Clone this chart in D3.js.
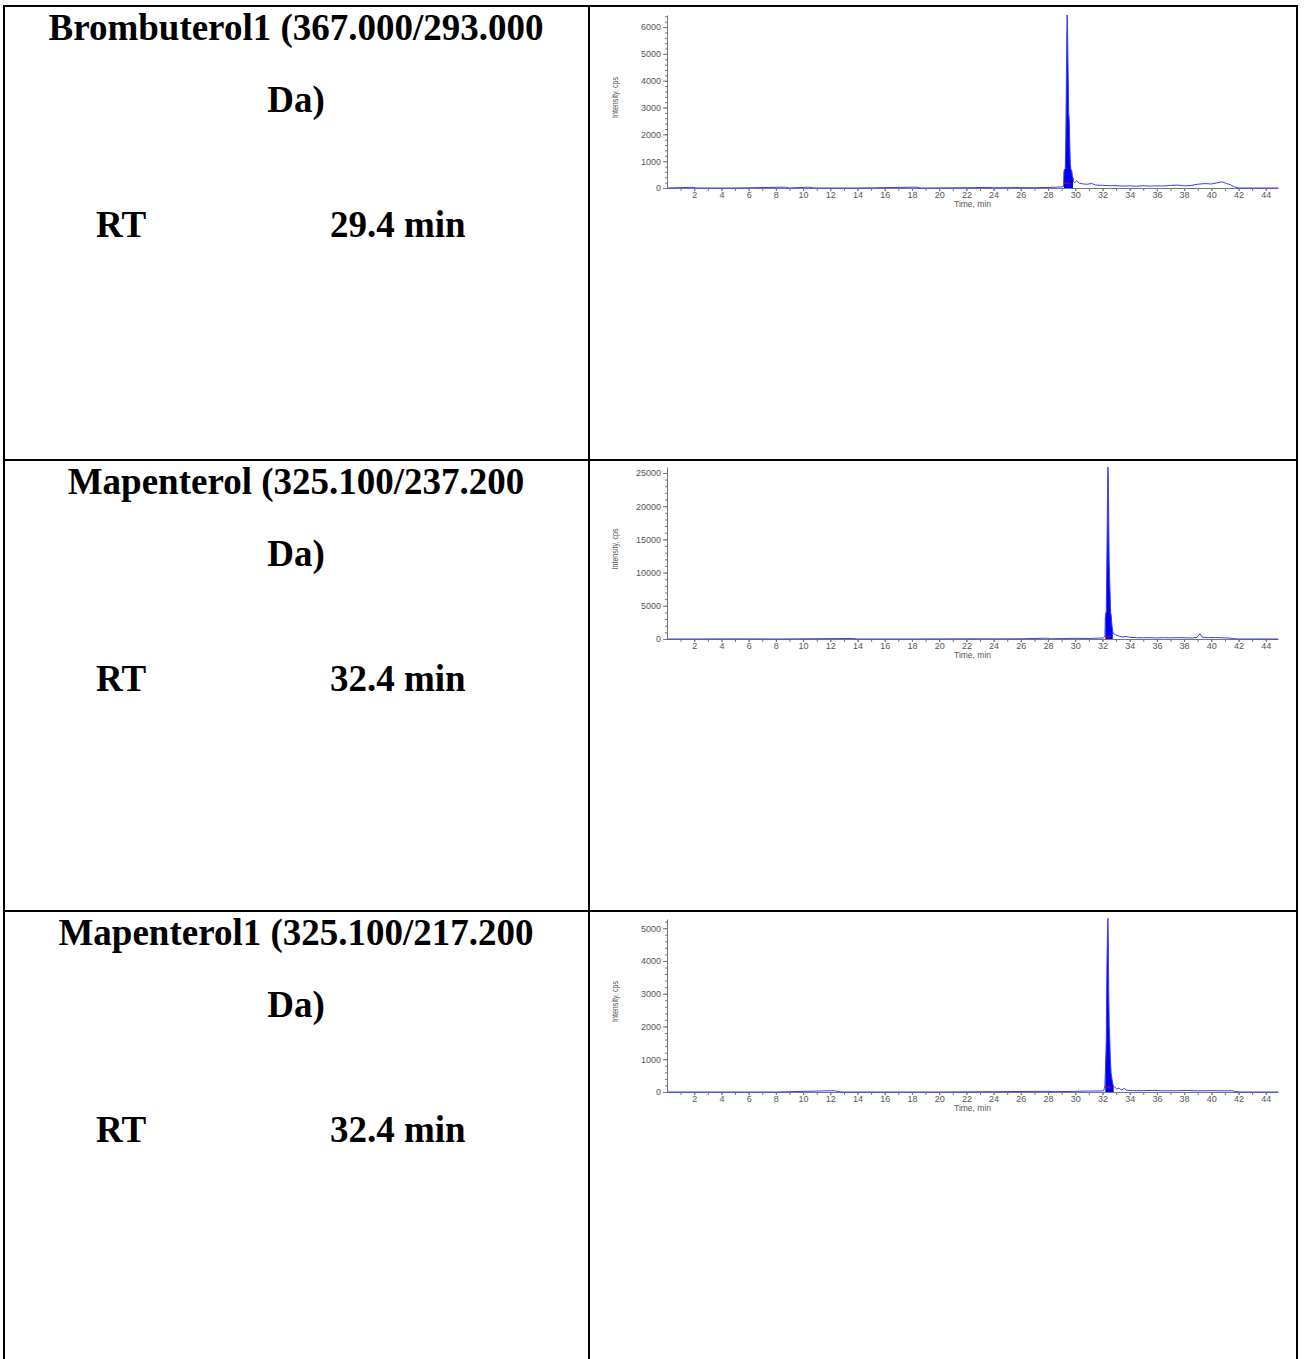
<!DOCTYPE html>
<html>
<head>
<meta charset="utf-8">
<script src="https://cdn.jsdelivr.net/npm/d3@7"></script>
<style>
  body { margin: 0; background: #fff; }
  .cell-text { font-family: "Liberation Serif", "Times New Roman", serif; font-weight: bold; font-size: 37px; fill: #000; }
  .tick text { font-family: "Liberation Sans", Arial, sans-serif; font-size: 9px; fill: #555; }
  .axis-title { font-family: "Liberation Sans", Arial, sans-serif; font-size: 8.5px; fill: #555; }
</style>
</head>
<body>
<script>
// compound names, split over two lines like the table cell
const compounds = ["Brombuterol1 (367.000/293.000", "Mapenterol (325.100/237.200", "Mapenterol1 (325.100/217.200"];
const compoundTail = ["Da)", "Da)", "Da)"];
const rtLabel = "RT";
const rtValues = ["29.4 min", "32.4 min", "32.4 min"];

// axis ticks
const timeLabels = [2, 4, 6, 8, 10, 12, 14, 16, 18, 20, 22, 24, 26, 28, 30, 32, 34, 36, 38, 40, 42, 44];
const timeMax = 44.9;
const yTicks = [
  [0, 1000, 2000, 3000, 4000, 5000, 6000],
  [0, 5000, 10000, 15000, 20000, 25000],
  [0, 1000, 2000, 3000, 4000, 5000]
];
const yMinorStep = [200, 1000, 200];
const yMax = [6450, 25900, 5280];

// chromatogram traces: [time (min), intensity (cps)]
const brombuterolTrace = [
  [0, 0], [1.8, 25], [2.2, 0], [5, 0], [8.7, 30], [9.0, 0], [10.4, 30], [10.8, 0], [14, 0],
  [18.3, 30], [18.7, 0], [22, 10], [23.5, 20], [24, 10], [26, 15], [27, 10], [28, 20], [28.6, 30],
  [29.0, 40], [29.14, 60], [29.17, 620], [29.22, 700], [29.27, 720], [29.31, 1900], [29.34, 3600],
  [29.37, 5200], [29.4, 6450], [29.43, 6200], [29.46, 4900], [29.49, 3900], [29.52, 2800],
  [29.56, 2500], [29.6, 1600], [29.64, 900], [29.68, 700], [29.74, 650], [29.8, 420], [29.84, 380],
  [29.88, 240], [29.95, 200], [30.1, 260], [30.3, 180], [30.6, 150], [30.9, 140], [31.2, 170],
  [31.5, 110], [32, 100], [32.5, 85], [33, 90], [33.5, 70], [34, 80], [34.5, 65], [35, 85],
  [35.5, 70], [36, 80], [36.5, 75], [37, 95], [37.5, 110], [38, 80], [38.5, 95], [39, 140],
  [39.5, 165], [40, 150], [40.4, 190], [40.8, 230], [41.1, 170], [41.4, 120], [41.7, 40], [42, 0], [44.9, 0]
];
const mapenterolTrace = [
  [0, 0], [2, 0], [5, 20], [8, 0], [13.7, 80], [14, 0], [18, 0], [22, 30], [24, 20], [26, 30],
  [27.9, 120], [28.2, 30], [29, 60], [30, 100], [31, 80], [31.7, 130], [32.05, 150], [32.18, 400],
  [32.21, 3200], [32.25, 3900], [32.28, 4100], [32.31, 9000], [32.34, 15000], [32.37, 21000],
  [32.4, 25900], [32.43, 24500], [32.46, 18000], [32.49, 12000], [32.52, 9400], [32.56, 7000],
  [32.6, 4000], [32.64, 3600], [32.7, 2000], [32.76, 1100], [32.82, 800], [32.95, 650], [33.2, 450],
  [33.5, 300], [33.75, 400], [34, 250], [34.5, 200], [35, 180], [35.5, 200], [36, 150], [36.5, 200],
  [37, 170], [37.5, 200], [38, 180], [38.6, 150], [38.95, 250], [39.15, 800], [39.35, 250],
  [39.8, 200], [40.3, 220], [40.8, 180], [41.3, 150], [41.6, 60], [42, 0], [44.9, 0]
];
const mapenterol1Trace = [
  [0, 0], [4, 0], [8, 0], [12.3, 40], [12.8, 0], [16, 0], [20, 0], [24, 10], [27.8, 20], [28.5, 10],
  [30, 20], [31, 30], [31.8, 30], [32.1, 40], [32.18, 200], [32.21, 560], [32.25, 1100], [32.28, 1580],
  [32.31, 3100], [32.34, 4200], [32.37, 4890], [32.4, 5300], [32.43, 4700], [32.46, 3100], [32.5, 2000],
  [32.54, 1580], [32.58, 1000], [32.64, 560], [32.7, 400], [32.76, 250], [32.82, 160], [32.9, 150],
  [33.05, 90], [33.2, 120], [33.4, 60], [33.6, 110], [33.8, 50], [34.2, 40], [35, 40], [35.8, 50],
  [36.5, 35], [37.5, 40], [38.2, 45], [39, 35], [40, 40], [41, 35], [41.5, 40], [41.8, 10], [42.2, 0], [44.9, 0]
];
const traces = [brombuterolTrace, mapenterolTrace, mapenterol1Trace];
// integrated peak window and baseline level
const peakWindows = [[29.15, 29.86], [32.19, 32.8], [32.19, 32.82]];
const peakBaseline = [180, 300, 150];

// layout
const rowTop = [6, 460, 911];
const axisZero = [188, 639, 1092];
const axisTop = [15, 467, 919];
const plotLeft = 667, plotRight = 1278;

const svg = d3.select("body").append("svg")
  .attr("width", 1307)
  .attr("height", 1359);

svg.append("rect").attr("width", 1307).attr("height", 1359).attr("fill", "#fff");

// table grid
const grid = svg.append("g").attr("stroke", "#000").attr("stroke-width", 2);
grid.append("line").attr("x1", 3).attr("x2", 1298).attr("y1", 6).attr("y2", 6);
[460, 911].forEach(y => grid.append("line").attr("x1", 3).attr("x2", 1298).attr("y1", y).attr("y2", y));
[4, 589, 1297].forEach(x => grid.append("line").attr("x1", x).attr("x2", x).attr("y1", 5).attr("y2", 1359));

const x = d3.scaleLinear([0, timeMax], [plotLeft, plotRight]);

compounds.forEach((name, i) => {
  const top = rowTop[i];

  // left cell
  svg.append("text").attr("class", "cell-text")
    .attr("x", 296).attr("y", top + 34)
    .attr("text-anchor", "middle")
    .text(name);
  svg.append("text").attr("class", "cell-text")
    .attr("x", 296).attr("y", top + 106)
    .attr("text-anchor", "middle")
    .text(compoundTail[i]);
  svg.append("text").attr("class", "cell-text")
    .attr("x", 96).attr("y", top + 231)
    .text(rtLabel);
  svg.append("text").attr("class", "cell-text")
    .attr("x", 330).attr("y", top + 231)
    .text(rtValues[i]);

  // chromatogram
  const y = d3.scaleLinear([0, yMax[i]], [axisZero[i], axisTop[i]]);
  const g = svg.append("g");

  // minor ticks
  g.append("g")
    .attr("transform", `translate(0,${axisZero[i]})`)
    .call(d3.axisBottom(x).tickValues(d3.range(1, 45, 1)).tickSize(3).tickFormat(""))
    .call(a => a.select(".domain").remove())
    .selectAll("line").attr("stroke", "#777");
  g.append("g")
    .attr("transform", `translate(${plotLeft},0)`)
    .call(d3.axisLeft(y).tickValues(d3.range(0, yMax[i], yMinorStep[i])).tickSize(2).tickFormat(""))
    .call(a => a.select(".domain").remove())
    .selectAll("line").attr("stroke", "#777");

  // x axis
  const xa = g.append("g")
    .attr("transform", `translate(0,${axisZero[i]})`)
    .call(d3.axisBottom(x).tickValues(timeLabels).tickSize(3).tickPadding(1).tickSizeOuter(0));
  xa.select(".domain").attr("stroke", "#777");
  xa.selectAll(".tick line").attr("stroke", "#777");

  // y axis
  const ya = g.append("g")
    .attr("transform", `translate(${plotLeft},0)`)
    .call(d3.axisLeft(y).tickValues(yTicks[i]).tickSize(4).tickPadding(2).tickSizeOuter(0).tickFormat(d3.format("d")));
  ya.select(".domain").attr("stroke", "#777");
  ya.selectAll(".tick line").attr("stroke", "#777");

  g.append("text").attr("class", "axis-title")
    .attr("x", (plotLeft + plotRight) / 2)
    .attr("y", axisZero[i] + 19)
    .attr("text-anchor", "middle")
    .text("Time, min");
  g.append("text").attr("class", "axis-title")
    .attr("transform", `translate(618,${(axisTop[i] + axisZero[i]) / 2 - 4}) rotate(-90)`)
    .attr("text-anchor", "middle")
    .attr("textLength", 41)
    .attr("lengthAdjust", "spacingAndGlyphs")
    .text("Intensity, cps");

  // integrated peak area
  const [w0, w1] = peakWindows[i];
  const peakPts = traces[i].filter(d => d[0] >= w0 && d[0] <= w1);
  g.append("path")
    .datum(peakPts)
    .attr("fill", "#0000f0")
    .attr("d", d3.area().x(d => x(d[0])).y0(y(0)).y1(d => y(d[1])));

  // trace
  g.append("path")
    .datum(traces[i])
    .attr("fill", "none")
    .attr("stroke", "#3b3bff")
    .attr("stroke-width", 1)
    .attr("d", d3.line().x(d => x(d[0])).y(d => y(d[1])));

  // peak baseline
  g.append("line")
    .attr("x1", x(w0)).attr("x2", x(w1 - 0.2))
    .attr("y1", y(peakBaseline[i])).attr("y2", y(peakBaseline[i]))
    .attr("stroke", "#e00000").attr("stroke-width", 1);
});
</script>
</body>
</html>
